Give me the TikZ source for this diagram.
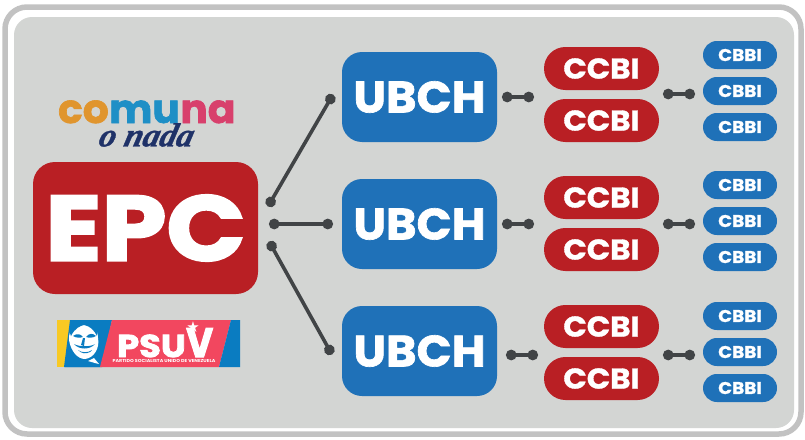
\documentclass[tikz,border=0pt]{standalone}
\usepackage{fontspec}
\setmainfont{Poppins}
\newfontfamily\heavy[FakeBold=1.3,FakeStretch=1.08]{Poppins Bold}
\newfontfamily\ubf[FakeBold=1.5,FakeStretch=1.05]{Poppins Bold}
\newfontfamily\epcf[FakeBold=2.6,FakeStretch=1.13]{Poppins Bold}
\newfontfamily\psuvf[FakeBold=2.5,FakeStretch=1.12]{Poppins Bold}
\newfontfamily\psuvvf[FakeBold=2.5,FakeStretch=0.9]{Poppins Bold}
\newfontfamily\tinyf[FakeStretch=1.12]{Poppins Bold}
\newfontfamily\comf[FakeBold=1.6,FakeStretch=1.02]{Poppins Bold}
\newfontfamily\scriptf[FakeSlant=0.25,FakeBold=1.0]{Liberation Serif Bold Italic}
\newfontfamily\symf{DejaVu Sans}
\usetikzlibrary{arrows.meta}
\definecolor{panel}{HTML}{D3D5D3}
\definecolor{frame}{HTML}{C2C2C2}
\definecolor{redb}{HTML}{B91F24}
\definecolor{blueb}{HTML}{1F71B8}
\definecolor{link}{HTML}{414446}
\definecolor{orangeL}{HTML}{E0952E}
\definecolor{blueL}{HTML}{1E8FC6}
\definecolor{pinkL}{HTML}{D8406C}
\definecolor{navyL}{HTML}{1F3268}
\definecolor{psuvred}{HTML}{F2475F}
\definecolor{psuvblue}{HTML}{0A7CC1}
\definecolor{psuvyel}{HTML}{F8C923}
\tikzset{
  x=1pt,y=-1pt,
  box/.style={minimum width=#1,inner sep=0pt,text=white},
  epcbox/.style={box=225pt,minimum height=132pt,rounded corners=22pt,fill=redb},
  ubch/.style={box=155pt,minimum height=90pt,rounded corners=20pt,fill=blueb,font=\ubf\fontsize{44}{44}\selectfont},
  ccbi/.style={box=115pt,minimum height=43pt,rounded corners=21.4pt,fill=redb,font=\heavy\fontsize{28.5}{28.5}\selectfont},
  cbbi/.style={box=74pt,minimum height=28pt,rounded corners=13.9pt,fill=blueb,font=\heavy\fontsize{17}{17}\selectfont},
  lnk/.style={draw=link,line width=3.6pt,{Circle[length=10.5pt,width=10.5pt]}-{Circle[length=10.5pt,width=10.5pt]},shorten <=-4pt,shorten >=-4pt},
  logo/.style={inner sep=0pt},
  comuna/.style={logo,font=\comf\fontsize{40}{40}\selectfont},
}
\begin{document}
\begin{tikzpicture}
\useasboundingbox (0,0) rectangle (805,439);
\fill[white] (0,0) rectangle (805,439);
\draw[frame,line width=5.5pt,rounded corners=22pt] (5,7) rectangle (801,434);
\fill[panel,rounded corners=18pt] (14,17) rectangle (794,428);

% logo
\node[comuna,anchor=base east,text=orangeL] (lc) at (109,123) {co};
\node[comuna,anchor=base west,text=blueL] (lm) at (lc.base east) {mu};
\node[comuna,anchor=base west,text=pinkL] (ln) at (lm.base east) {na};
\node[logo,text=navyL,font=\scriptf\fontsize{33.5}{33.5}\selectfont] (lo) at (144.5,135) {o nada};

% PSUV flag
\fill[psuvyel] (57,320) rectangle (72,367);
\fill[psuvblue] (70,320) -- (112,320) -- (102,367) -- (64,367) -- cycle;
\fill[psuvred] (112,320) -- (231,320) -- (219,367) -- (100,367) -- cycle;
\fill[psuvblue] (231,320) -- (240,320) -- (240,367) -- (219,367) -- cycle;
% portrait
\fill[white] (69,340) .. controls (68,330) and (76,321) .. (86,322) .. controls (93,323) and (98,330) .. (98,338) .. controls (100,348) and (94,358) .. (85,359) .. controls (78,359) and (71,352) .. (69,340) -- cycle;
\fill[psuvblue] (72,322) .. controls (69,327) and (69,332) .. (71,336) .. controls (75,328) and (80,326) .. (84,325) .. controls (90,326) and (94,330) .. (97,336) .. controls (99,331) and (96,322) .. (88,320) -- cycle;
\fill[psuvblue] (73,336) .. controls (77,333) and (81,334) .. (83,337) .. controls (80,338) and (76,338) .. (73,336) -- cycle;
\fill[psuvblue] (86,337) .. controls (89,333) and (93,333) .. (96,336) .. controls (93,338) and (89,338) .. (86,337) -- cycle;
\fill[psuvblue] (83,338) -- (81,345) -- (84,346) -- (85,338) -- cycle;
\fill[psuvblue] (74,344) .. controls (79,350) and (90,350) .. (95,344) .. controls (91,347) and (79,347) .. (74,344) -- cycle;
\fill[psuvblue] (78,350) .. controls (82,353) and (88,353) .. (92,350) -- (90,352) .. controls (86,354) and (82,354) .. (78,350) -- cycle;
\fill[psuvblue] (65,367) .. controls (66,361) and (71,357) .. (73,353) .. controls (77,360) and (84,362) .. (90,359) .. controls (94,360) and (97,362) .. (100,367) -- cycle;
\fill[white] (88,361) -- (94,358) -- (99,364) -- (95,363) -- cycle;

\node[logo,text=white,font=\psuvf\fontsize{31.5}{31.5}\selectfont,anchor=base west] (pv) at (117,357) {PSU};
\node[logo,text=white,font=\psuvvf\fontsize{41}{41}\selectfont,anchor=base west] (pw) at (pv.base east) {V};
\node[logo,text=white,font=\tinyf\fontsize{4.3}{5}\selectfont,anchor=base] (pt) at (164,362.5) {PARTIDO SOCIALISTA UNIDO DE VENEZUELA};
\node[logo,text=white,font=\symf\fontsize{15}{15}\selectfont] (st) at (193,327) {★};

% boxes
\node[epcbox,font=\epcf\fontsize{92}{92}\selectfont] (epc) at (145.5,228) {EPC};
\foreach \r/\u/\ca/\cb/\da/\db/\dc in {1/97/68.5/120.5/55/91/127,2/224/197.5/249.5/185/221/257,3/351/326.5/378.5/316/352/388}{
  \node[ubch] (u\r) at (419.5,\u) {UBCH};
  \node[ccbi] (ca\r) at (601.5,\ca) {CCBI};
  \node[ccbi] (cb\r) at (601.5,\cb) {CCBI};
  \node[cbbi] (da\r) at (740,\da) {CBBI};
  \node[cbbi] (db\r) at (740,\db) {CBBI};
  \node[cbbi] (dc\r) at (740,\dc) {CBBI};
}

% connector ends
\coordinate (e1) at (270,203); \coordinate (f1) at (331,98);
\coordinate (e2) at (273,224); \coordinate (f2) at (329,224);
\coordinate (e3) at (271,245); \coordinate (f3) at (330,351);
\coordinate (g1) at (506,97);  \coordinate (h1) at (530,97);
\coordinate (g2) at (506,224); \coordinate (h2) at (530,224);
\coordinate (g3) at (510,355); \coordinate (h3) at (534,355);
\coordinate (i1) at (667,94);  \coordinate (j1) at (691,94);
\coordinate (i2) at (667,224); \coordinate (j2) at (691,224);
\coordinate (i3) at (667,355); \coordinate (j3) at (691,355);
\foreach \r in {1,2,3}{
  \draw[lnk] (e\r) -- (f\r);
  \draw[lnk] (g\r) -- (h\r);
  \draw[lnk] (i\r) -- (j\r);
}
\end{tikzpicture}
\end{document}
